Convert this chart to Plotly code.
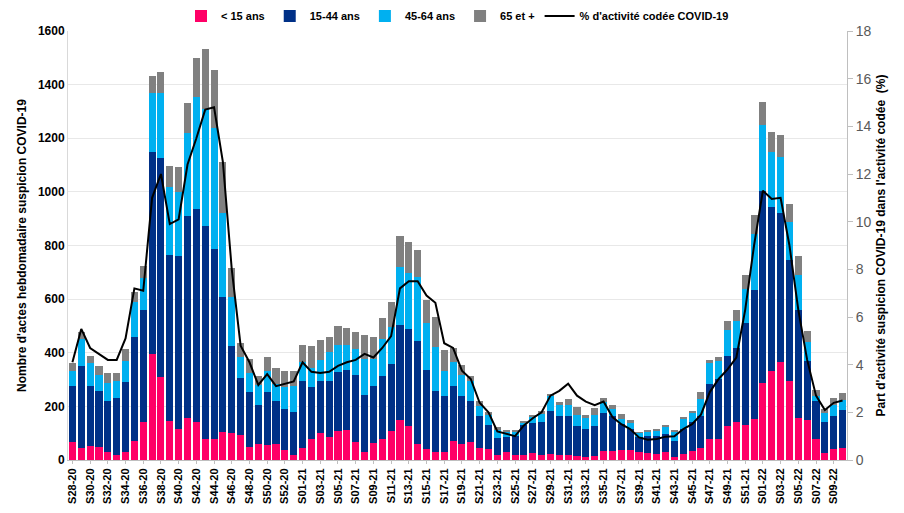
import plotly.graph_objects as go

weeks_2020 = ["S%02d-20" % w for w in range(28, 54)]
weeks_2021 = ["S%02d-21" % w for w in range(1, 53)]
weeks_2022 = ["S%02d-22" % w for w in range(1, 11)]
categories = weeks_2020 + weeks_2021 + weeks_2022

moins15 = [68, 43, 51, 47, 29, 20, 29, 72, 140, 395, 308, 147, 116, 157, 143, 78, 78, 106, 101, 93,
           50, 60, 57, 60, 37, 20, 45, 78, 99, 87, 109, 113, 66, 29, 63, 78, 109, 149, 128, 60,
           41, 29, 29, 72, 60, 66, 45, 41, 19, 29, 20, 20, 25, 20, 22, 20, 20, 14, 13, 16,
           32, 32, 39, 39, 29, 26, 22, 29, 10, 22, 35, 43, 78, 78, 126, 143, 132, 153, 286, 331,
           364, 293, 155, 150, 78, 25, 40, 45]
a15_44 = [207, 309, 226, 209, 192, 210, 261, 385, 421, 755, 818, 617, 643, 754, 795, 796, 709, 501, 323, 212,
          205, 146, 195, 159, 153, 160, 251, 193, 197, 209, 220, 224, 251, 215, 214, 236, 249, 356, 361, 383,
          295, 230, 211, 205, 180, 155, 120, 89, 62, 56, 68, 110, 112, 120, 162, 145, 143, 114, 103, 112,
          143, 131, 95, 77, 56, 62, 69, 68, 62, 94, 105, 122, 205, 224, 263, 275, 378, 481, 716, 611,
          556, 454, 405, 220, 143, 115, 125, 140]
a45_64 = [58, 99, 85, 62, 66, 63, 80, 131, 119, 217, 241, 255, 239, 308, 417, 435, 450, 314, 183, 78,
          68, 74, 79, 64, 81, 96, 71, 72, 78, 105, 101, 93, 97, 133, 100, 137, 139, 216, 208, 241,
          175, 164, 93, 87, 78, 72, 38, 38, 32, 21, 18, 10, 22, 32, 56, 41, 42, 41, 39, 41,
          43, 27, 19, 22, 16, 18, 18, 25, 34, 37, 34, 62, 80, 68, 96, 102, 128, 209, 248, 208,
          209, 142, 130, 70, 19, 35, 40, 40]
a65plus = [29, 25, 27, 31, 36, 30, 44, 40, 45, 66, 81, 76, 93, 112, 144, 224, 217, 189, 109, 52,
           54, 32, 54, 60, 62, 57, 62, 81, 73, 59, 71, 61, 65, 89, 80, 79, 93, 116, 115, 99,
           87, 112, 78, 54, 38, 21, 18, 12, 9, 7, 3, 7, 9, 9, 6, 12, 22, 30, 14, 25,
           12, 15, 19, 11, 2, 6, 7, 9, 7, 6, 10, 25, 10, 13, 32, 39, 52, 71, 86, 74,
           85, 66, 70, 42, 21, 15, 25, 25]
pct_covid = [4.1, 5.5, 4.7, 4.45, 4.2, 4.2, 5.1, 7.2, 7.1, 11.0, 12.0, 9.9, 10.1, 12.4, 13.5, 14.7, 14.8, 12.5, 8.0, 4.8,
             4.1, 3.15, 3.6, 3.1, 3.2, 3.3, 4.1, 3.7, 3.65, 3.7, 3.95, 4.1, 4.2, 4.45, 4.3, 4.7, 5.2, 7.2, 7.5, 7.5,
             6.9, 6.6, 4.9, 4.7, 3.75, 3.4, 2.4, 2.0, 1.2, 1.1, 1.0, 1.45, 1.75, 2.0, 2.7, 2.9, 3.2, 2.7, 2.45, 2.3,
             2.45, 1.8, 1.5, 1.3, 0.95, 0.85, 0.88, 0.98, 1.0, 1.3, 1.5, 1.9, 2.85, 3.4, 3.8, 4.3, 6.3, 9.0, 11.3, 10.95,
             11.0, 9.0, 6.3, 4.2, 2.7, 2.1, 2.4, 2.5]

left_ticks = [0, 200, 400, 600, 800, 1000, 1200, 1400, 1600]
right_ticks = [0, 2, 4, 6, 8, 10, 12, 14, 16, 18]

FONT = "Liberation Sans"
fig = go.Figure()
series = [("< 15 ans", moins15, "#FF0066"),
          ("15-44 ans", a15_44, "#003087"),
          ("45-64 ans", a45_64, "#00B0F0"),
          ("65 et +", a65plus, "#808080")]
for name, vals, col in series:
    fig.add_trace(go.Bar(x=categories, y=vals, name=name, marker=dict(color=col, line=dict(width=0))))

fig.add_trace(go.Scatter(x=categories, y=pct_covid, name="% d'activité codée COVID-19",
                         mode="lines", line=dict(color="black", width=2), yaxis="y2"))

# the page body adds an 8px offset, so the figure is sized 8px smaller than the window
fig.update_layout(
    barmode="stack",
    bargap=0.2,
    width=896, height=505,
    margin=dict(l=60, r=57, t=23, b=53, autoexpand=False),
    paper_bgcolor="white",
    plot_bgcolor="white",
    font=dict(family=FONT, size=12, color="black"),
    legend=dict(orientation="h", x=0.5, xanchor="center", y=1.035, yanchor="middle",
                font=dict(family=FONT, size=11, color="black", weight="bold"),
                itemwidth=30, tracegroupgap=0, traceorder="normal"),
    xaxis=dict(type="category", categoryorder="array", categoryarray=categories,
               tickmode="array", tickvals=categories[::2], ticktext=categories[::2],
               tickangle=-90, tickfont=dict(family=FONT, size=11, color="black", weight="bold"),
               showline=True, linecolor="#BFBFBF", ticks="outside", ticklen=3, tickcolor="#BFBFBF",
               showgrid=False),
    yaxis=dict(range=[0, 1600], tickvals=left_ticks,
               tickfont=dict(family=FONT, size=12, color="black", weight="bold"),
               showgrid=True, gridcolor="#E8E8E8", zeroline=False,
               showline=True, linecolor="#D9D9D9",
               title=dict(text="Nombre d'actes hebdomadaire suspicion COVID-19",
                          font=dict(family=FONT, size=12, color="black", weight="bold"), standoff=8)),
    yaxis2=dict(range=[0, 18], tickvals=right_ticks, overlaying="y", side="right",
                tickfont=dict(family=FONT, size=14, color="#595959"),
                showgrid=False, zeroline=False, showline=True, linecolor="#BFBFBF",
                ticks="outside", ticklen=5, tickcolor="#BFBFBF",
                title=dict(text="Part d'activité suspicion COVID-19 dans l'activité codée  (%)",
                           font=dict(family=FONT, size=12, color="black", weight="bold"), standoff=6)),
)

fig.write_html("out.html")
